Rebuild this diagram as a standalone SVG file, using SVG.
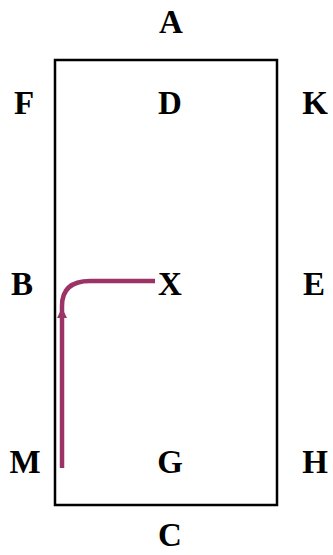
<svg xmlns="http://www.w3.org/2000/svg" width="333" height="555" viewBox="0 0 333 555">
<style>
.lbl{font-family:"Liberation Serif","Times New Roman",serif;font-weight:bold;font-size:33px;fill:#000;text-anchor:middle}
.box{fill:none;stroke:#000;stroke-width:2.5}
.route{fill:none;stroke:#9b3366;stroke-width:4.5;stroke-linecap:butt}
</style>
<defs>
<marker id="arr" markerUnits="userSpaceOnUse" markerWidth="10" markerHeight="10" refX="5" refY="5" orient="auto" viewBox="0 0 10 10">
<path d="M0,0 L10,5 L0,10 Z" fill="#9b3366"/>
</marker>
</defs>
<g id="field"><rect class="box" x="55" y="60" width="222" height="445"/></g>
<g id="A"><text class="lbl" x="171" y="33">A</text></g>
<g id="F"><text class="lbl" x="24" y="114">F</text></g>
<g id="D"><text class="lbl" x="170" y="114">D</text></g>
<g id="K"><text class="lbl" x="315" y="114">K</text></g>
<g id="B"><text class="lbl" x="22" y="295">B</text></g>
<g id="X"><text class="lbl" x="170" y="295">X</text></g>
<g id="E"><text class="lbl" x="314" y="295">E</text></g>
<g id="M"><text class="lbl" x="25" y="473">M</text></g>
<g id="G"><text class="lbl" x="170" y="473">G</text></g>
<g id="H"><text class="lbl" x="315" y="473">H</text></g>
<g id="C"><text class="lbl" x="170" y="546">C</text></g>
<g id="connectors">
<path class="route" d="M62,468 L62,313" marker-end="url(#arr)"/>
<path class="route" d="M62,316 L62,306 Q62,281 90,281 L155,281"/>
</g>
</svg>
